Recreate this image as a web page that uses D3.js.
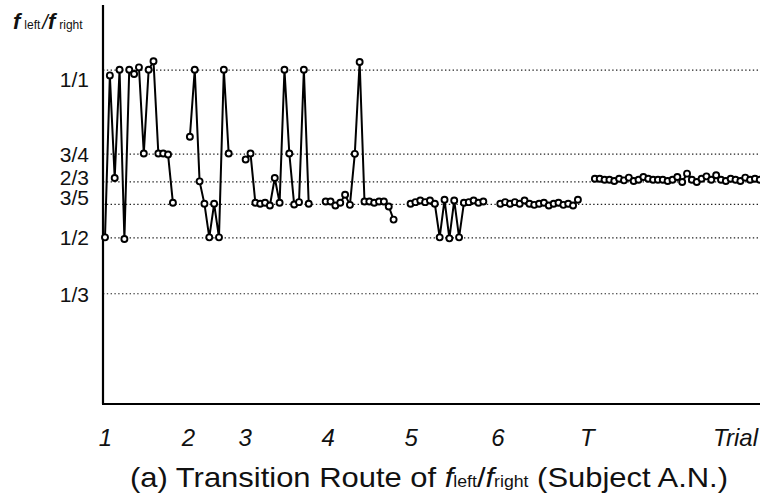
<!DOCTYPE html>
<html>
<head>
<meta charset="utf-8">
<script src="https://cdn.jsdelivr.net/npm/d3@7"></script>
<style>
  body { margin: 0; background: #fff; }
  svg { display: block; font-family: "Liberation Sans", Arial, sans-serif; }
</style>
</head>
<body>
<svg id="chart" width="760" height="501"></svg>
<script>
// values, one array per session
const session1 = [0.5, 0.983, 0.677, 1.0, 0.495, 1.0, 0.987, 1.007, 0.75, 1.0, 1.025, 0.75, 0.75, 0.747, 0.603]
const session2 = [0.8, 1.0, 0.667, 0.6, 0.5, 0.6, 0.5, 1.0, 0.75]
const session3 = [0.732, 0.75, 0.603, 0.6, 0.603, 0.595, 0.677, 0.603, 1.0, 0.75, 0.598, 0.605, 1.0, 0.6]
const session4 = [0.607, 0.607, 0.595, 0.603, 0.627, 0.597, 0.749, 1.023, 0.607, 0.607, 0.603, 0.607, 0.607, 0.592, 0.553]
const session5 = [0.6, 0.605, 0.61, 0.605, 0.61, 0.6, 0.5, 0.612, 0.497, 0.61, 0.5, 0.603, 0.605, 0.61, 0.603, 0.607]
const session6 = [0.6, 0.605, 0.6, 0.605, 0.6, 0.61, 0.6, 0.597, 0.6, 0.603, 0.595, 0.6, 0.603, 0.597, 0.6, 0.595, 0.612]
const sessionT = [0.675, 0.675, 0.672, 0.672, 0.668, 0.675, 0.67, 0.678, 0.668, 0.672, 0.68, 0.675, 0.672, 0.672,
  0.672, 0.668, 0.672, 0.68, 0.665, 0.69, 0.672, 0.665, 0.675, 0.682, 0.672, 0.685, 0.672, 0.668, 0.675, 0.672,
  0.668, 0.678, 0.672, 0.675, 0.672]

const sessions = [session1, session2, session3, session4, session5, session6, sessionT]
const sessionLabels = ['1', '2', '3', '4', '5', '6', 'T']

const gridValues = [1, 3 / 4, 2 / 3, 3 / 5, 1 / 2, 1 / 3]
const gridLabels = ['1/1', '3/4', '2/3', '3/5', '1/2', '1/3']

// layout
const gap = 3.5            // empty trial slots between sessions
const labelNudge = [9, 0, -4, -7, 0, 1]
const xLabelNudge = [0, -2, -1, 2, 0, -3, -8]
const left = 103
const right = 760
const bottom = 405

// place every trial on a running slot index
const points = []
const starts = []
let slot = 0
sessions.forEach((vals, s) => {
  starts.push(slot)
  vals.forEach((v, i) => points.push({ s, slot: slot + i, v }))
  slot += vals.length - 1 + gap
})
const lastSlot = points[points.length - 1].slot

const x = d3.scaleLinear().domain([0, lastSlot]).range([105, 759.8])
const y = d3.scaleLinear().domain([0, 1.19]).range([bottom, 6])

const svg = d3.select('#chart')

// dotted reference lines
svg.append('g')
  .attr('transform', `translate(${left},0)`)
  .call(d3.axisRight(y).tickValues(gridValues).tickSize(right - left).tickFormat(''))
  .call(g => g.select('.domain').remove())
  .call(g => g.selectAll('line')
    .attr('stroke', '#222')
    .attr('stroke-width', 1.2)
    .attr('stroke-dasharray', '1.4 2.4'))

// y tick labels
svg.append('g')
  .attr('transform', 'translate(89,0)')
  .call(d3.axisLeft(y).tickValues(gridValues).tickSize(0).tickPadding(0)
    .tickFormat((d, i) => gridLabels[i]))
  .call(g => g.select('.domain').remove())
  .call(g => g.selectAll('text')
    .attr('font-family', '"Liberation Sans", Arial, sans-serif')
    .attr('font-size', 21)
    .attr('fill', '#111')
    .attr('dy', (d, i) => (labelNudge[i] + 7.5) + 'px'))

// axes lines
svg.append('line')
  .attr('x1', left).attr('x2', left).attr('y1', 5).attr('y2', bottom - 1)
  .attr('stroke', '#000').attr('stroke-width', 2.2)
svg.append('line')
  .attr('x1', left - 1).attr('x2', right).attr('y1', bottom - 1).attr('y2', bottom - 1)
  .attr('stroke', '#000').attr('stroke-width', 2)

// x labels at the session starts
svg.append('g')
  .attr('transform', 'translate(0,446)')
  .call(d3.axisBottom(x).tickValues(starts).tickSize(0).tickPadding(0)
    .tickFormat((d, i) => sessionLabels[i]))
  .call(g => g.select('.domain').remove())
  .call(g => g.selectAll('text')
    .attr('dy', 0)
    .attr('dx', (d, i) => xLabelNudge[i])
    .attr('font-family', '"Liberation Sans", Arial, sans-serif')
    .attr('font-size', 24)
    .attr('font-style', 'italic')
    .attr('fill', '#111'))

svg.append('text')
  .attr('x', 758).attr('y', 446)
  .attr('text-anchor', 'end')
  .attr('font-size', 24)
  .attr('font-style', 'italic')
  .attr('fill', '#111')
  .text('Trial')

// series lines and markers
const line = d3.line().x(d => x(d.slot)).y(d => y(d.v))
const plot = svg.append('g')

plot.selectAll('path')
  .data(d3.groups(points, d => d.s).map(d => d[1]))
  .join('path')
  .attr('d', line)
  .attr('fill', 'none')
  .attr('stroke', '#000')
  .attr('stroke-width', 2)

plot.selectAll('circle')
  .data(points)
  .join('circle')
  .attr('cx', d => x(d.slot))
  .attr('cy', d => y(d.v))
  .attr('r', 3)
  .attr('fill', '#fff')
  .attr('stroke', '#000')
  .attr('stroke-width', 1.9)

// y title  f_left / f_right
const yt = svg.append('text').attr('x', 13).attr('y', 29).attr('fill', '#111')
yt.append('tspan').attr('font-size', 22).attr('font-style', 'italic').attr('font-weight', 'bold').text('f')
yt.append('tspan').attr('font-size', 12).attr('dx', 4).text('left')
yt.append('tspan').attr('font-size', 20).attr('font-style', 'italic').attr('dx', 2).text('/')
yt.append('tspan').attr('font-size', 22).attr('font-style', 'italic').attr('font-weight', 'bold').text('f')
yt.append('tspan').attr('font-size', 12).attr('dx', 4).text('right')

// caption
const cap = svg.append('text').attr('x', 130).attr('y', 487)
  .attr('font-size', 28).attr('fill', '#111')
  .attr('textLength', 598).attr('lengthAdjust', 'spacingAndGlyphs')
cap.append('tspan').text('(a) Transition Route of ')
cap.append('tspan').attr('font-style', 'italic').text('f')
cap.append('tspan').attr('font-size', 16).text('left')
cap.append('tspan').text('/')
cap.append('tspan').attr('font-style', 'italic').text('f')
cap.append('tspan').attr('font-size', 16).text('right')
cap.append('tspan').text(' (Subject A.N.)')
</script>
</body>
</html>
